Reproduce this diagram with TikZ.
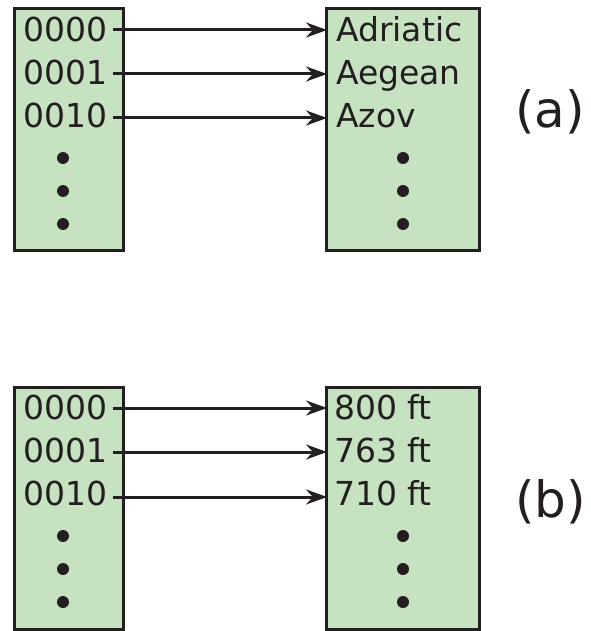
\documentclass[tikz,border=0pt]{standalone}
\usepackage{fontspec}
\setmainfont{DejaVu Sans}
\usetikzlibrary{arrows.meta}
\definecolor{ink}{HTML}{231F20}
\definecolor{cellgreen}{HTML}{C6E2C0}
\begin{document}
\begin{tikzpicture}[x=1pt,y=-1pt,
  table/.style={draw=ink,fill=cellgreen,line width=3pt,inner sep=0pt,minimum height=242pt},
  entry/.style={text=ink,inner sep=0pt,anchor=base west,font=\fontsize{33}{40}\selectfont},
  tag/.style={text=ink,inner sep=0pt,anchor=base west,font=\fontsize{50}{60}\selectfont},
  vdot/.style={circle,fill=ink,inner sep=0pt,minimum size=12pt},
  link/.style={draw=ink,line width=3pt,-{Stealth[length=21pt,width=15pt,inset=7pt]}}]
\useasboundingbox (0,0) rectangle (590,631);

% ---- (a): codes mapped to sea names ----
\node[table,minimum width=109pt] (ka) at (69,129.5) {};
\node[table,minimum width=153pt] (va) at (403,129.5) {};
\node[entry] (ka1) at (23,42) {0000};
\node[entry] (ka2) at (23,85) {0001};
\node[entry] (ka3) at (23,128) {0010};
\node[entry] (va1) at (336,42) {Adriatic};
\node[entry] (va2) at (336,85) {Aegean};
\node[entry] (va3) at (336,128) {Azov};
\foreach \y [count=\i] in {158,191,224} {
  \node[vdot] (kad\i) at (63,\y) {};
  \node[vdot] (vad\i) at (403,\y) {};
}
\coordinate (sa1) at (113,30);  \coordinate (ea1) at (327,30);
\coordinate (sa2) at (113,74);  \coordinate (ea2) at (327,74);
\coordinate (sa3) at (113,118); \coordinate (ea3) at (327,118);
\draw[link] (sa1) -- (ea1);
\draw[link] (sa2) -- (ea2);
\draw[link] (sa3) -- (ea3);
\node[tag] (taga) at (515,128) {(a)};

% ---- (b): codes mapped to depths ----
\node[table,minimum width=109pt] (kb) at (69,508) {};
\node[table,minimum width=153pt] (vb) at (403,508) {};
\node[entry] (kb1) at (23,419) {0000};
\node[entry] (kb2) at (23,462) {0001};
\node[entry] (kb3) at (23,505) {0010};
\node[entry] (vb1) at (334,419) {800 ft};
\node[entry] (vb2) at (334,462) {763 ft};
\node[entry] (vb3) at (334,505) {710 ft};
\foreach \y [count=\i] in {536,569,602} {
  \node[vdot] (kbd\i) at (63,\y) {};
  \node[vdot] (vbd\i) at (403,\y) {};
}
\coordinate (sb1) at (113,408); \coordinate (eb1) at (327,408);
\coordinate (sb2) at (113,452); \coordinate (eb2) at (327,452);
\coordinate (sb3) at (113,497); \coordinate (eb3) at (327,497);
\draw[link] (sb1) -- (eb1);
\draw[link] (sb2) -- (eb2);
\draw[link] (sb3) -- (eb3);
\node[tag] (tagb) at (515,517) {(b)};
\end{tikzpicture}
\end{document}
